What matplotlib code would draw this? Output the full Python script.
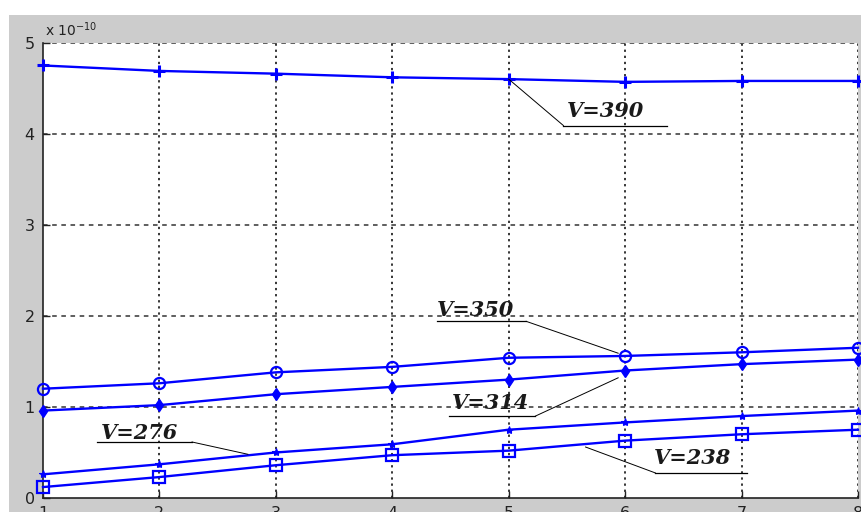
import matplotlib
matplotlib.use("Agg")
import matplotlib.pyplot as plt
from matplotlib.patches import Rectangle

# Data (values in units of 1e-10)
x = [1, 2, 3, 4, 5, 6, 7, 8]
v390 = [4.75, 4.69, 4.66, 4.62, 4.60, 4.57, 4.58, 4.58]
v350 = [1.20, 1.26, 1.38, 1.44, 1.54, 1.56, 1.60, 1.65]
v314 = [0.96, 1.02, 1.14, 1.22, 1.30, 1.40, 1.47, 1.52]
v276 = [0.26, 0.37, 0.50, 0.59, 0.75, 0.83, 0.90, 0.96]
v238 = [0.12, 0.23, 0.36, 0.47, 0.52, 0.63, 0.70, 0.75]
xticks = [1, 2, 3, 4, 5, 6, 7, 8]
yticks = [0, 1, 2, 3, 4, 5]

W, H = 861, 512
fig = plt.figure(figsize=(W / 100, H / 100), dpi=100, facecolor="white")
bg = Rectangle((9 / W, 0), 1 - 9 / W, (H - 15) / H,
               transform=fig.transFigure, facecolor="#cccccc",
               edgecolor="none", zorder=-10)
fig.add_artist(bg)

left, right, top, bottom = 43, 858, 42.7, 498
ax = fig.add_axes([left / W, 1 - bottom / H, (right - left) / W, (bottom - top) / H])
ax.set_zorder(1)
ax.set_facecolor("white")
ax.set_xlim(1, 8)
ax.set_ylim(0, 5)

blue = "#0000ff"
lw = 1.7
ax.plot(x, v390, color=blue, lw=lw, marker="+", ms=9, mew=2.2, clip_on=False, zorder=3)
ax.plot(x, v350, color=blue, lw=lw, marker="o", ms=8, mfc="none", mew=1.6, clip_on=False, zorder=3)
ax.plot(x, v314, color=blue, lw=lw, marker="d", ms=6, mfc=blue, mew=1, clip_on=False, zorder=3)
ax.plot(x, v276, color=blue, lw=lw, marker="*", ms=6, mfc=blue, mew=0.8, clip_on=False, zorder=3)
ax.plot(x, v238, color=blue, lw=lw, marker="s", ms=9, mfc="none", mew=1.6, clip_on=False, zorder=3)

# Grid: dotted verticals, dashed horizontals
ax.set_xticks(xticks)
ax.set_yticks(yticks)
for xv in xticks[1:]:
    ax.axvline(xv, color="black", lw=1.1, ls=(0, (1.5, 2.5)), zorder=1)
for yv in yticks[1:]:
    ax.axhline(yv, color="#333333", lw=1.1, ls=(0, (3, 3)), zorder=1)

for s in ["top", "right"]:
    ax.spines[s].set_visible(False)
for s in ["left", "bottom"]:
    ax.spines[s].set_color("#222222")
    ax.spines[s].set_linewidth(1.2)

ax.tick_params(direction="in", length=5, width=1, colors="#222222",
               labelsize=11.5, pad=6)
ax.tick_params(axis="x", pad=6)

fig.text(45 / W, 1 - 36 / H, r"x 10$^{-10}$", fontsize=10, color="#222222",
         ha="left", va="baseline", zorder=5)

# Annotation labels
def label(txt, tx, ty, ux0, ux1, uy, lx0, ly0, lx1, ly1):
    ax.text(tx, ty, txt, fontsize=15, family="DejaVu Serif", style="italic",
            weight="bold", color="#1a1a1a", ha="left", va="baseline", zorder=4)
    ax.plot([ux0, ux1], [uy, uy], color="black", lw=0.9, zorder=4)
    ax.plot([lx0, lx1], [ly0, ly1], color="black", lw=0.7, zorder=4)

label("V=390", 5.50, 4.18, 5.47, 6.36, 4.09, 5.0, 4.60, 5.47, 4.09)
label("V=350", 4.38, 2.0, 4.38, 5.15, 1.94, 5.15, 1.94, 5.94, 1.59)
label("V=314", 4.51, 0.98, 4.49, 5.23, 0.90, 5.23, 0.90, 5.94, 1.32)
label("V=276", 1.50, 0.65, 1.46, 2.28, 0.615, 2.28, 0.615, 2.76, 0.48)
label("V=238", 6.25, 0.37, 6.26, 7.05, 0.275, 6.26, 0.275, 5.66, 0.56)

fig.savefig("out.png", dpi=100, facecolor=fig.get_facecolor())
